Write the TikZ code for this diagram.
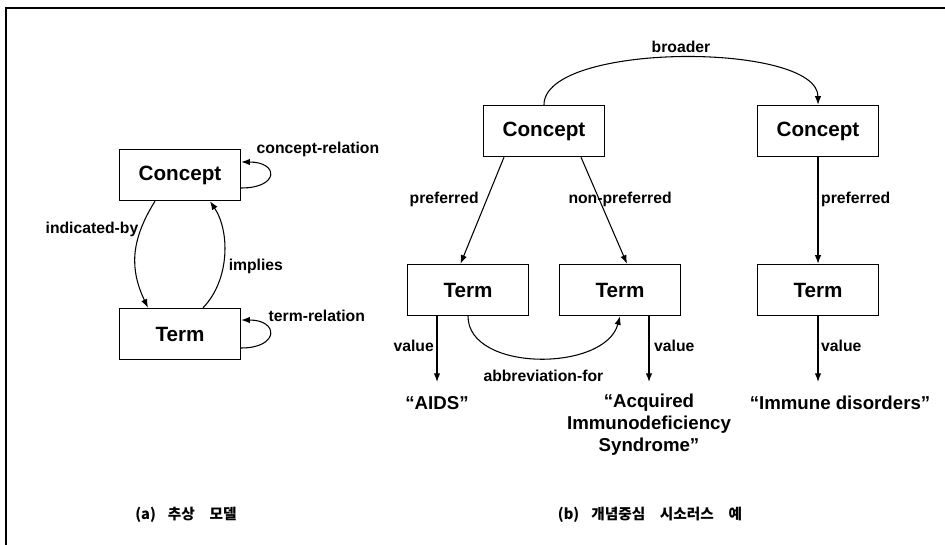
\documentclass[tikz,border=0pt]{standalone}
\usepackage{fontspec}
\setmainfont{Liberation Sans}
\newfontfamily\kofont{Noto Sans CJK KR}
\usetikzlibrary{arrows.meta,calc}

\begin{document}
\begin{tikzpicture}[x=0.75pt,y=-0.75pt,line width=0.8pt,>={Latex[length=6.5pt,width=4.8pt]},
	box/.style={draw,minimum width=91pt,minimum height=38.5pt,font=\bfseries\fontsize{15.5}{18}\selectfont},
	lbl/.style={inner sep=0pt,font=\bfseries\fontsize{11.8}{14}\selectfont},
	valtext/.style={inner sep=0pt,align=center,font=\bfseries\fontsize{14}{16.5}\selectfont},
	capt/.style={inner sep=0pt,font=\kofont\bfseries\fontsize{11}{13}\selectfont}]
				\useasboundingbox (0,0) rectangle (945,545);
				% frame
				\draw[line width=1.3pt] (6,545) -- (6,8) -- (945,8);
				
				% (a) abstract model
				\node[box] (conceptA) at (180,175) {Concept};
				\node[box] (termA) at (180,334) {Term};
				\draw[->] ($(conceptA.south)+(-25,0)$) .. controls +(-25,40) and +(-18,-38) ..
					node[lbl, pos=0.25, anchor=east, xshift=-1.5pt] (lind) {indicated-by} ($(termA.north)+(-32,0)$);
				\draw[->] ($(termA.north)+(23,0)$) .. controls +(27,-28) and +(20,30) ..
					node[lbl, pos=0.4, anchor=west, xshift=4pt] (limp) {implies} ($(conceptA.south)+(30,0)$);
				\draw[->] ($(conceptA.east)+(0,13)$) .. controls +(38,0) and +(38,0) .. ($(conceptA.east)+(0,-13)$);
				\node[lbl, anchor=west] (lcrel) at ($(conceptA.east)+(15,-26)$) {concept-relation};
				\draw[->] ($(termA.east)+(0,14)$) .. controls +(38,0) and +(38,0) .. ($(termA.east)+(0,-14)$);
				\node[lbl, anchor=west] (ltrel) at ($(termA.east)+(27,-18)$) {term-relation};
				\node[capt] (capa) at (186,515) {(a)\hspace{9pt}추상\hspace{11pt}모델};
				
				% (b) concept-based thesaurus
				\node[box] (conceptB) at (544,131) {Concept};
				\node[box] (conceptC) at (818,131) {Concept};
				\node[box] (termB) at (468,290) {Term};
				\node[box] (termC) at (620,290) {Term};
				\node[box] (termD) at (818,290) {Term};
				\draw[->] (conceptB.north) .. controls +(0,-63) and +(0,-63) ..
					node[lbl, pos=0.5, above=3.5pt] (lbroad) {broader} (conceptC.north);
				\draw[->] ($(conceptB.south)+(-40,0)$) --
					node[lbl, pos=0.4, anchor=east, xshift=-5.5pt] (lprefB) {preferred} ($(termB.north)+(-7.5,0)$);
				\draw[->] ($(conceptB.south)+(37,0)$) --
					node[lbl, pos=0.4, xshift=15.5pt] (lnonpref) {non-preferred} ($(termC.north)+(7,0)$);
				\draw[->] (conceptC.south) --
					node[lbl, pos=0.4, anchor=west, xshift=2pt] (lprefD) {preferred} (termD.north);
				\draw[->] (termB.south) .. controls +(0,56) and +(-15,56) ..
					node[lbl, pos=0.5, below=8.5pt, xshift=3.75pt] (labbr) {abbreviation-for} (termC.south);
				% values
				\coordinate (vB) at (437,382);
				\coordinate (vC) at (649,382);
				\coordinate (vD) at (818,382);
				\draw[->] (termB.south -| vB) -- node[lbl, pos=0.45, anchor=east, xshift=-2pt] (lvalB) {value} (vB);
				\draw[->] (termC.south -| vC) -- node[lbl, pos=0.45, anchor=west, xshift=3.5pt] (lvalC) {value} (vC);
				\draw[->] (termD.south -| vD) -- node[lbl, pos=0.45, anchor=west, xshift=2pt] (lvalD) {value} (vD);
				\node[valtext] (aids) at (437,403) {“AIDS”};
				\node[valtext] (aidsfull) at (649,425) {“Acquired\\Immunodeficiency\\Syndrome”};
				\node[valtext] (immune) at (840,403) {“Immune disorders”};
				\node[capt] (capb) at (650,515) {(b)\hspace{9pt}개념중심\hspace{11pt}시소러스\hspace{11pt}예};
\end{tikzpicture}
\end{document}
